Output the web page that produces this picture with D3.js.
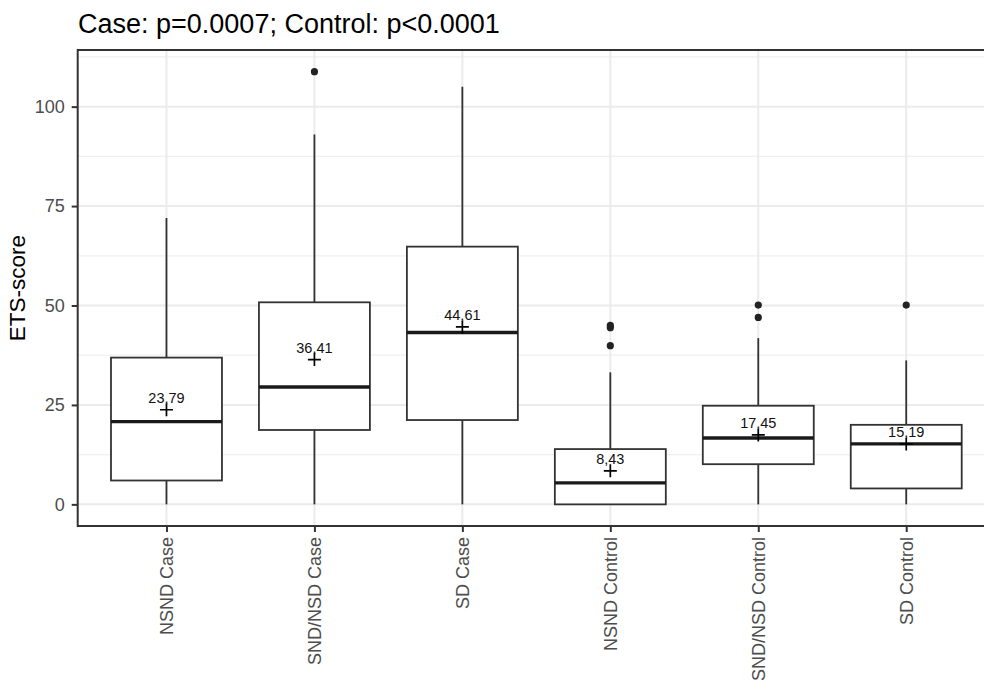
<!DOCTYPE html>
<html>
<head>
<meta charset="utf-8">
<script src="https://cdn.jsdelivr.net/npm/d3@7"></script>
<style>
  html, body { margin: 0; padding: 0; background: #ffffff; }
  svg { display: block; font-family: "Liberation Sans", Arial, sans-serif; }
</style>
</head>
<body>
<svg id="chart" width="984" height="680"></svg>
<script>
// Groups along the x axis
const categories = ["NSND Case", "SND/NSD Case", "SD Case", "NSND Control", "SND/NSD Control", "SD Control"];

// Box statistics per group (ETS-score)
const whiskerLow  = [0, 0, 0, 0, 0, 0];
const quartile1   = [6.0, 18.7, 21.2, 0.0, 10.1, 4.0];
const medians     = [20.8, 29.5, 43.2, 5.4, 16.7, 15.2];
const quartile3   = [36.9, 50.8, 64.8, 13.9, 24.8, 20.0];
const whiskerHigh = [72, 93, 105, 33.2, 41.8, 36.2];

// Group means and their printed labels
const means      = [23.79, 36.41, 44.61, 8.43, 17.45, 15.19];
const meanLabels = ["23,79", "36,41", "44,61", "8,43", "17,45", "15,19"];

// Points beyond the whiskers
const outliers = [[], [108.8], [], [45.0, 44.4, 39.9], [50.1, 47.0], [50.1]];

// Axis ticks
const yTicks = [0, 25, 50, 75, 100];
const yMinorTicks = [12.5, 37.5, 62.5, 87.5, 112.5];

const titleText = "Case: p=0.0007; Control: p<0.0001";
const yTitle = "ETS-score";

const svg = d3.select("#chart");
const panel = { left: 77.7, right: 995, top: 50, bottom: 526 };

// y range: data extent with 5% expansion on each side
const allVals = whiskerLow.concat(whiskerHigh, outliers.flat());
const yMin = d3.min(allVals), yMax = d3.max(allVals);
const pad = (yMax - yMin) * 0.05;
const y = d3.scaleLinear().domain([yMin - pad, yMax + pad]).range([panel.bottom, panel.top]);

const x = d3.scalePoint().domain(categories).range([panel.left, panel.right]).padding(0.6);
const boxW = x.step() * 0.75;

svg.append("rect").attr("width", 984).attr("height", 680).attr("fill", "#ffffff");

// Grid
const grid = svg.append("g");
grid.selectAll(".minor").data(yMinorTicks).join("line")
  .attr("x1", panel.left).attr("x2", panel.right)
  .attr("y1", d => y(d)).attr("y2", d => y(d))
  .attr("stroke", "#F0F0F0").attr("stroke-width", 1.2);
grid.selectAll(".major").data(yTicks).join("line")
  .attr("x1", panel.left).attr("x2", panel.right)
  .attr("y1", d => y(d)).attr("y2", d => y(d))
  .attr("stroke", "#EBEBEB").attr("stroke-width", 2);
grid.selectAll(".vmajor").data(categories).join("line")
  .attr("x1", d => x(d)).attr("x2", d => x(d))
  .attr("y1", panel.top).attr("y2", panel.bottom)
  .attr("stroke", "#EBEBEB").attr("stroke-width", 2);

// Boxplots
const stroke = "#333333";
const boxes = svg.append("g").selectAll("g").data(categories).join("g");

boxes.append("line")
  .attr("x1", d => x(d)).attr("x2", d => x(d))
  .attr("y1", (d, i) => y(quartile3[i])).attr("y2", (d, i) => y(whiskerHigh[i]))
  .attr("stroke", stroke).attr("stroke-width", 1.8);
boxes.append("line")
  .attr("x1", d => x(d)).attr("x2", d => x(d))
  .attr("y1", (d, i) => y(quartile1[i])).attr("y2", (d, i) => y(whiskerLow[i]))
  .attr("stroke", stroke).attr("stroke-width", 1.8);
boxes.append("rect")
  .attr("x", d => x(d) - boxW / 2).attr("width", boxW)
  .attr("y", (d, i) => y(quartile3[i]))
  .attr("height", (d, i) => y(quartile1[i]) - y(quartile3[i]))
  .attr("fill", "#ffffff").attr("stroke", stroke).attr("stroke-width", 1.8);
boxes.append("line")
  .attr("x1", d => x(d) - boxW / 2).attr("x2", d => x(d) + boxW / 2)
  .attr("y1", (d, i) => y(medians[i])).attr("y2", (d, i) => y(medians[i]))
  .attr("stroke", "#1a1a1a").attr("stroke-width", 3.4);

// Outliers
boxes.each(function (d, i) {
  d3.select(this).selectAll("circle").data(outliers[i]).join("circle")
    .attr("cx", x(d)).attr("cy", v => y(v)).attr("r", 3.6)
    .attr("fill", "#222222");
});

// Mean markers (+) and labels
const cs = 6.5;
boxes.append("path")
  .attr("d", (d, i) => {
    const cx = x(d), cy = y(means[i]);
    return `M${cx - cs},${cy}H${cx + cs}M${cx},${cy - cs}V${cy + cs}`;
  })
  .attr("stroke", "#000").attr("stroke-width", 1.7).attr("fill", "none");
boxes.append("text")
  .attr("x", d => x(d)).attr("y", (d, i) => y(means[i]) - 6.5)
  .attr("text-anchor", "middle").attr("font-size", 14.5).attr("fill", "#111")
  .text((d, i) => meanLabels[i]);

// Panel border
svg.append("rect")
  .attr("x", panel.left).attr("y", panel.top)
  .attr("width", panel.right - panel.left).attr("height", panel.bottom - panel.top)
  .attr("fill", "none").attr("stroke", "#333333").attr("stroke-width", 2);

// Y axis
const yAxis = svg.append("g").attr("transform", `translate(${panel.left},0)`)
  .call(d3.axisLeft(y).tickValues(yTicks).tickSize(6).tickPadding(7));
yAxis.select(".domain").remove();
yAxis.selectAll(".tick line").attr("stroke", "#333333").attr("stroke-width", 2);
yAxis.selectAll(".tick text").attr("fill", "#4D4D4D").attr("font-size", 18)
  .attr("font-family", "Liberation Sans, Arial, sans-serif");

// X axis
const xAxis = svg.append("g").attr("transform", `translate(0,${panel.bottom})`)
  .call(d3.axisBottom(x).tickSize(6).tickPadding(5));
xAxis.select(".domain").remove();
xAxis.selectAll(".tick line").attr("stroke", "#333333").attr("stroke-width", 2);
xAxis.selectAll(".tick text")
  .attr("fill", "#4D4D4D").attr("font-size", 18)
  .attr("font-family", "Liberation Sans, Arial, sans-serif")
  .attr("text-anchor", "end")
  .attr("transform", "rotate(-90)")
  .attr("x", -11).attr("y", 0).attr("dy", "0.35em");

// Axis title
svg.append("text")
  .attr("transform", `translate(25,${(panel.top + panel.bottom) / 2}) rotate(-90)`)
  .attr("text-anchor", "middle").attr("font-size", 22.5).attr("fill", "#000")
  .text(yTitle);

// Plot title
svg.append("text")
  .attr("x", 78).attr("y", 33)
  .attr("font-size", 27).attr("fill", "#000")
  .text(titleText);
</script>
</body>
</html>
